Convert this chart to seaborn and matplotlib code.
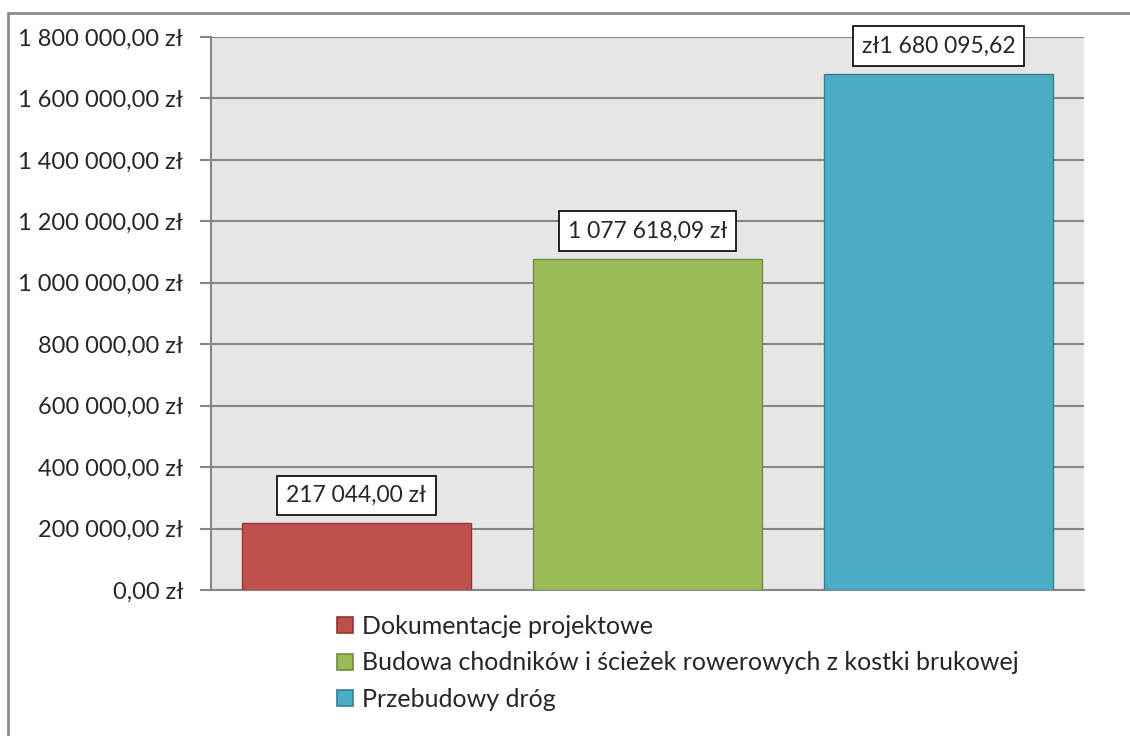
import matplotlib
matplotlib.use("Agg")
import matplotlib.pyplot as plt
import pandas as pd
import seaborn as sns
from matplotlib.lines import Line2D

categories = ["Dokumentacje projektowe",
              "Budowa chodników i ścieżek rowerowych z kostki brukowej",
              "Przebudowy dróg"]
values = [217044.00, 1077618.09, 1680095.62]
value_labels = ["217 044,00 zł", "1 077 618,09 zł", "zł1 680 095,62"]
colors = ["#C0504D", "#9BBB59", "#4BACC6"]
edges = ["#8C3836", "#71893F", "#357D91"]
yticks = list(range(0, 1800001, 200000))


def zl(v):
    s = f"{v:,.2f}".replace(",", " ").replace(".", ",")
    return s + " zł"


sns.set_theme(style="white")
plt.rcParams["font.family"] = ["Lato", "DejaVu Sans"]

df = pd.DataFrame({"kat": categories, "wartosc": values})

fig = plt.figure(figsize=(11.3, 7.36), dpi=100)
ax = fig.add_axes([211 / 1130, 1 - 590 / 736, 873 / 1130, 553 / 736])
ax.set_facecolor("#E6E6E6")

sns.barplot(data=df, x="kat", y="wartosc", hue="kat", palette=colors,
            saturation=1, width=0.79, dodge=False, legend=False, ax=ax,
            zorder=3)
for patch, ec in zip(ax.patches, edges):
    patch.set_edgecolor(ec)
    patch.set_linewidth(1.0)

ax.set_ylim(0, 1800000)
ax.set_yticks(yticks)
ax.set_yticklabels([zl(v) for v in yticks], fontsize=17)
ax.yaxis.grid(True, color="#868686", linewidth=1.5, zorder=0)
ax.set_axisbelow(True)
ax.tick_params(axis="y", length=8, width=1.5, color="#868686", pad=12,
               left=True)
ax.set_xticks([])
ax.set_xlabel("")
ax.set_ylabel("")
for side in ["top", "right"]:
    ax.spines[side].set_visible(False)
for side in ["left", "bottom"]:
    ax.spines[side].set_color("#868686")
    ax.spines[side].set_linewidth(1.5)

for i, (v, lab) in enumerate(zip(values, value_labels)):
    ax.annotate(lab, xy=(i, v), xytext=(0, 20), textcoords="offset points",
                ha="center", va="center", fontsize=16.5, zorder=5,
                bbox=dict(boxstyle="square,pad=0.4", fc="white",
                          ec="black", lw=1.2))

handles = [Line2D([0], [0], marker="s", linestyle="", markersize=11,
                  markerfacecolor=c, markeredgecolor=e, markeredgewidth=1.2)
           for c, e in zip(colors, edges)]
fig.legend(handles, categories, loc="upper left",
           bbox_to_anchor=(310 / 1130, 1 - 592 / 736), frameon=False,
           fontsize=18, handletextpad=0.2, labelspacing=0.55,
           handlelength=1.0)

# outer chart border (top and left edges visible)
fig.add_artist(Line2D([8 / 1130, 8 / 1130], [0, 1 - 13 / 736],
                      color="#8C8C8C", lw=2, transform=fig.transFigure))
fig.add_artist(Line2D([8 / 1130, 1], [1 - 13 / 736, 1 - 13 / 736],
                      color="#8C8C8C", lw=2, transform=fig.transFigure))

fig.savefig("out.png", dpi=100)
